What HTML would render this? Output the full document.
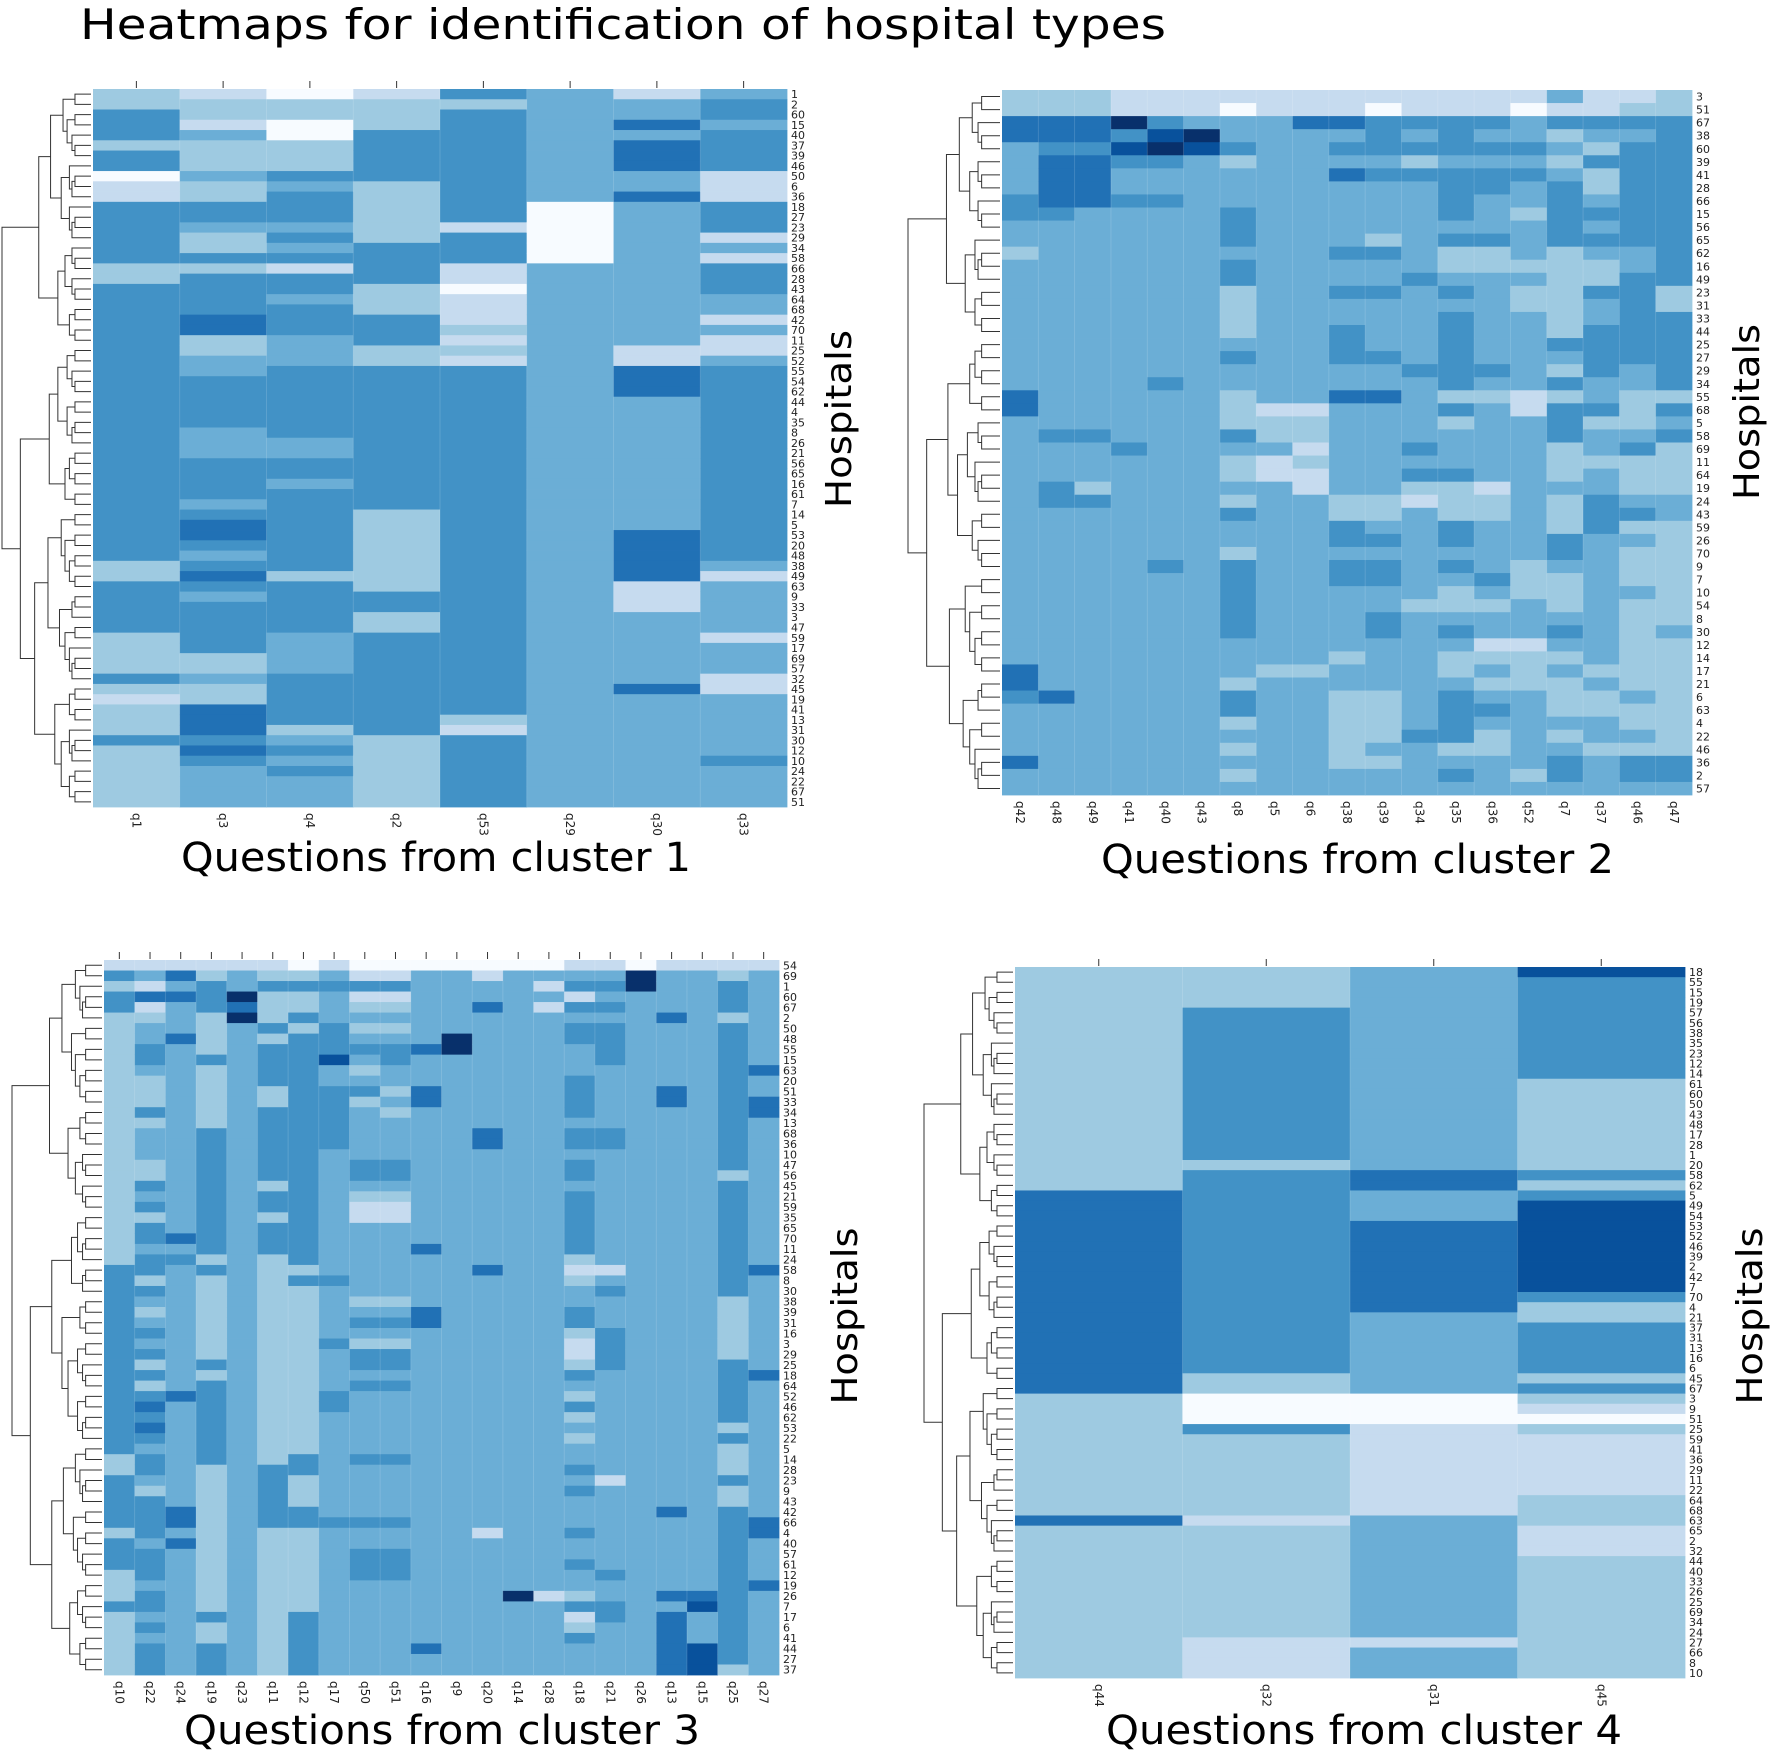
<!DOCTYPE html>
<html><head><meta charset="utf-8"><title>Heatmaps for identification of hospital types</title>
<style>html,body{margin:0;padding:0;background:#fff}svg{display:block}text{font-family:"DejaVu Sans","Liberation Sans",sans-serif}</style>
</head><body>
<svg id="fig" width="1770" height="1756" viewBox="0 0 1770 1756" xmlns="http://www.w3.org/2000/svg">
<text x="80" y="39" font-size="42" textLength="1086" lengthAdjust="spacingAndGlyphs" fill="#000">Heatmaps for identification of hospital types</text>
<text x="181" y="871" font-size="40" textLength="510" lengthAdjust="spacingAndGlyphs">Questions from cluster 1</text>
<text x="1101" y="873" font-size="40" textLength="513" lengthAdjust="spacingAndGlyphs">Questions from cluster 2</text>
<text x="184" y="1744" font-size="40" textLength="516" lengthAdjust="spacingAndGlyphs">Questions from cluster 3</text>
<text x="1106" y="1744" font-size="40" textLength="516" lengthAdjust="spacingAndGlyphs">Questions from cluster 4</text>
<text transform="translate(851,419) rotate(-90)" text-anchor="middle" font-size="36" textLength="178" lengthAdjust="spacingAndGlyphs">Hospitals</text>
<text transform="translate(1759,412) rotate(-90)" text-anchor="middle" font-size="36" textLength="176" lengthAdjust="spacingAndGlyphs">Hospitals</text>
<text transform="translate(857,1316) rotate(-90)" text-anchor="middle" font-size="36" textLength="177" lengthAdjust="spacingAndGlyphs">Hospitals</text>
<text transform="translate(1762,1316) rotate(-90)" text-anchor="middle" font-size="36" textLength="177" lengthAdjust="spacingAndGlyphs">Hospitals</text>
</svg>
<script>
// ---- palette levels (0 = lightest, 7 = darkest) ----
const PAL = ["#f7fbff","#c6dbef","#9ecae1","#6baed6","#4292c6","#2171b5","#08519c","#08306b"];

// ---- cluster 1 (column-major strings, one digit per hospital row) ----
const c1Questions = ["q1","q3","q4","q2","q53","q29","q30","q33"];
const c1Values = [
 "2244424401"+"1444444224"+"4444444444"+"4444444444"+"4444442244"+"4442222421"+"2224222222",
 "1221322232"+"2443224244"+"4455223344"+"4443334444"+"3455434543"+"4444422322"+"5554543333",
 "0220022243"+"4443434144"+"3444333444"+"4444334434"+"4444444244"+"4443333444"+"4423434333",
 "1222444442"+"2222244442"+"2244422444"+"4444444444"+"4222222224"+"4224444444"+"4442222222",
 "4244444444"+"4441444110"+"1112121444"+"4444444444"+"4444444444"+"4444444444"+"4214444444",
 "3333333333"+"3000000333"+"3333333333"+"3333333333"+"3333333333"+"3333333333"+"3333333333",
 "1335355533"+"5333333333"+"3333311555"+"3333333333"+"3335555511"+"1333333353"+"3333333333",
 "3443444411"+"1444131444"+"3313113444"+"4444444444"+"4444443133"+"3331333113"+"3333343333"
];
const c1Hospitals = [1,2,60,15,40,37,39,46,50,6,36,18,27,23,29,34,58,66,28,43,64,68,42,70,11,25,52,55,54,62,44,4,35,8,26,21,56,65,16,61,7,14,5,53,20,48,38,49,63,9,33,3,47,59,17,69,57,32,45,19,41,13,31,30,12,10,24,22,67,51];

// ---- cluster 2 (row-major strings, one digit per question) ----
const c2Questions = ["q42","q48","q49","q41","q40","q43","q8","q5","q6","q38","q39","q34","q35","q36","q52","q7","q37","q46","q47"];
const c2Rows = [
 "2221111111111113112","2221110111011101122","5557433355444434444","5554673333434332334",
 "3446764334444443244","3554432333323332444","3553333335444443244","3553333333334434244",
 "4554433333334334344","4433334333334324444","3333334333333334344","3333334333234434444",
 "2333333334432232334","3333334333332222234","3333334333343332244","3333332334434322442",
 "3333332333333322342","3333332333334332344","3333332334334332444","3333333334334334444",
 "3333334334434333444","3333333333344432434","3333433333334334334","5333332335532212322",
 "5333332113334314424","3333332223332334223","3443334223333334334","3334333313343332342",
 "3333332123333332222","3333332113344332322","3423333313322133322","3443332332212232433",
 "3333334332232232443","3333333334334332422","3333333334434334332","3333332333333334322",
 "3333434334434323322","3333334334433422322","3333334333332322332","3333334333322232322",
 "3333334333433333322","3333334333434334323","3333333333333113322","3333333332332222322",
 "5333333223332323222","5333332333333222322","4533334332234332232","3333334332234432222",
 "3333332332234333322","3333333332244232332","3333332332332233222","5333333332233334344",
 "3333332333334324344","3333333333333333333"
];
const c2Hospitals = [3,51,67,38,60,39,41,28,66,15,56,65,62,16,49,23,31,33,44,25,27,29,34,55,68,5,58,69,11,64,19,24,43,59,26,70,9,7,10,54,8,30,12,14,17,21,6,63,4,22,46,36,2,57];

// ---- cluster 3 (column-major strings) ----
const c3Questions = ["q10","q22","q24","q19","q23","q11","q12","q17","q50","q51","q16","q9","q20","q14","q28","q18","q21","q26","q13","q15","q25","q27"];
const c3Values = [
 "1424422222"+"2222222222"+"2222222224"+"4444444444"+"4444444224"+"4444244422"+"24222222",
 "1315123344"+"3222423332"+"2434244344"+"2432343424"+"2454543443"+"2444434443"+"44343444",
 "1535333533"+"3333333333"+"3333335343"+"3333333333"+"3533333333"+"3355353333"+"33333333",
 "1244422224"+"2222224444"+"4444444424"+"2222222242"+"4444444422"+"2222222222"+"22422444",
 "1337573333"+"3333333333"+"3333333333"+"3333333333"+"3333333333"+"3333333333"+"33333333",
 "1242224244"+"4422444444"+"4244244422"+"2222222222"+"2222222244"+"4444222222"+"22222222",
 "0242242444"+"4444444444"+"4444444442"+"4222222222"+"2222222442"+"2244222222"+"22444444",
 "1343334446"+"3344444433"+"3333333333"+"4333334333"+"3443333333"+"3334333333"+"33333333",
 "0141232343"+"2342333334"+"4321133333"+"3323432443"+"4333333433"+"3334334443"+"33333333",
 "0141232344"+"3323233334"+"4321133333"+"3323432443"+"4333333433"+"3334334443"+"33333333",
 "0333333353"+"3355333333"+"3333333533"+"3335533333"+"3333333333"+"3333333333"+"33333533",
 "0333333773"+"3333333333"+"3333333333"+"3333333333"+"3333333333"+"3333333333"+"33333333",
 "0133533333"+"3333335533"+"3333333335"+"3333333333"+"3333333333"+"3333133333"+"33333333",
 "0333333333"+"3333333333"+"3333333333"+"3333333333"+"3333333333"+"3333333333"+"73333333",
 "0313133333"+"3333333333"+"3333333333"+"3333333333"+"3333333333"+"3333333333"+"13333333",
 "1341434433"+"3444434434"+"4344444421"+"2334421124"+"3242323343"+"4333433433"+"24124333",
 "1343434444"+"3333334433"+"3333333331"+"3433344443"+"3333333331"+"3333333343"+"34433333",
 "0773333333"+"3333333333"+"3333333333"+"3333333333"+"3333333333"+"3333333333"+"33333333",
 "1333353333"+"3355333333"+"3333333333"+"3333333333"+"3333333333"+"3353333333"+"53555555",
 "1333333333"+"3333333333"+"3333333333"+"3333333333"+"3333333333"+"3333333333"+"56333666",
 "1244424444"+"4444444444"+"2444444444"+"4422222244"+"4444242224"+"2244444444"+"44444442",
 "1333333333"+"5335533333"+"3333333335"+"3333333335"+"3333333333"+"3335533335"+"33333333"
];
const c3Hospitals = [54,69,1,60,67,2,50,48,55,15,63,20,51,33,34,13,68,36,10,47,56,45,21,59,35,65,70,11,24,58,8,30,38,39,31,16,3,29,25,18,64,52,46,62,53,22,5,14,28,23,9,43,42,66,4,40,57,61,12,19,26,7,17,6,41,44,27,37];

// ---- cluster 4 (column-major strings) ----
const c4Questions = ["q44","q32","q31","q45"];
const c4Values = [
 "2222222222"+"2222222222"+"2255555555"+"5555555555"+"5522222222"+"2222522222"+"2222222222",
 "2222444444"+"4444444442"+"4444444444"+"4444444444"+"2200042222"+"2222122222"+"2222221111",
 "3333333333"+"3333333333"+"5533355555"+"5555333333"+"3300011111"+"1111333333"+"3333331333",
 "6444444444"+"4222222222"+"4246666666"+"6642244444"+"2421021111"+"1122211122"+"2222222222"
];
const c4Hospitals = [18,55,15,19,57,56,38,35,23,12,14,61,60,50,43,48,17,28,1,20,58,62,5,49,54,53,52,46,39,2,42,7,70,4,21,37,31,13,16,6,45,67,3,9,51,25,59,41,36,29,11,22,64,68,63,65,2,32,44,40,33,26,25,69,34,24,27,66,8,10];

const NS = "http://www.w3.org/2000/svg";
const svg = document.getElementById("fig");
function mk(tag, attrs, parent) {
  const e = document.createElementNS(NS, tag);
  for (const k in attrs) e.setAttribute(k, attrs[k]);
  (parent || svg).appendChild(e);
  return e;
}
function colsFromStrings(arr) { return arr.map(s => s.split("").map(Number)); }
function colsFromRows(rows, nC) {
  const out = [];
  for (let c = 0; c < nC; c++) out.push(rows.map(r => Number(r[c])));
  return out;
}

function drawPanel(id, box, questions, vals, hospitals, opts) {
  const g = mk("g", {});
  
  
  const nC = questions.length, nR = vals[0].length;
  const cw = (box.x1 - box.x0) / nC, rh = (box.y1 - box.y0) / nR;
  const xScale = c => box.x0 + c * cw;
  const yScale = r => box.y0 + r * rh;
  for (let c = 0; c < nC; c++) {
    for (let r = 0; r < nR; r++) {
      const rc = mk("rect", {x: xScale(c).toFixed(2), y: yScale(r).toFixed(2), width: (cw + 0.4).toFixed(2), height: (rh + 0.4).toFixed(2), fill: PAL[vals[c][r]]}, g);
      
      
    }
  }
  // faint grid
  for (let c = 1; c < nC; c++) {
    const ln = mk("line", {x1: xScale(c), x2: xScale(c), y1: box.y0, y2: box.y1, stroke: "rgba(255,255,255,0.18)", "stroke-width": 0.8}, g);
    
    
  }
  // x tick labels
  for (let c = 0; c < nC; c++) {
    const cx = xScale(c) + cw / 2;
    const t = mk("text", {transform: `translate(${cx - 4},${box.y1 + 6}) rotate(90)`, "font-size": 12, fill: "#222"}, g);
    t.textContent = questions[c];
    
    
    if (opts.topTicks) {
      const tk = mk("line", {x1: cx, x2: cx, y1: box.y0 - 8, y2: box.y0 - 1, stroke: "#333", "stroke-width": 1}, g);
      
      
    }
  }
  // y tick labels
  for (let r = 0; r < nR; r++) {
    const t = mk("text", {x: box.x1 + 4, y: (yScale(r) + rh / 2 + 4).toFixed(1), "font-size": 11, fill: "#222"}, g);
    t.textContent = hospitals[r] !== undefined ? hospitals[r] : "";
    
    
  }
  // dendrogram
  const dg = mk("g", {stroke: "#333", "stroke-width": 1, fill: "none"});
  
  
  const dx0 = opts.dx0, dx1 = box.x0 - 2;
  let flip = 0;
  function build(lo, hi) {
    if (hi - lo === 1) return {y: yScale(lo) + rh / 2, x: dx1};
    flip++;
    let frac = [0.5, 0.35, 0.6, 0.45, 0.3][flip % 5];
    let mid = lo + Math.max(1, Math.min(hi - lo - 1, Math.round((hi - lo) * frac)));
    const a = build(lo, mid), b = build(mid, hi);
    const x = dx1 - (dx1 - dx0) * Math.pow((hi - lo) / nR, 0.55) - 4;
    const p = mk("path", {d: `M${a.x},${a.y}H${x}V${b.y}H${b.x}`}, dg);
    
    
    return {y: (a.y + b.y) / 2, x: x};
  }
  build(0, nR);
}

drawPanel("cluster-1", {x0: 93, x1: 787, y0: 89, y1: 807}, c1Questions, colsFromStrings(c1Values), c1Hospitals, {topTicks: true, dx0: 6});
drawPanel("cluster-2", {x0: 1002, x1: 1692, y0: 90, y1: 795}, c2Questions, colsFromRows(c2Rows, c2Questions.length), c2Hospitals, {topTicks: false, dx0: 912});
drawPanel("cluster-3", {x0: 104, x1: 779, y0: 960, y1: 1675}, c3Questions, colsFromStrings(c3Values), c3Hospitals, {topTicks: true, dx0: 16});
drawPanel("cluster-4", {x0: 1015, x1: 1685, y0: 967, y1: 1678}, c4Questions, colsFromStrings(c4Values), c4Hospitals, {topTicks: true, dx0: 928});
</script>
</body></html>
